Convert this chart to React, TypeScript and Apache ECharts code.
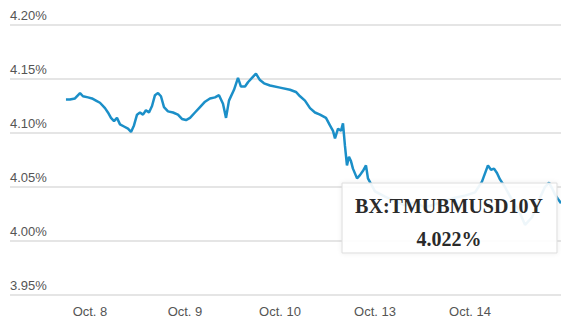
import React, { useEffect, useRef } from "react";
import * as echarts from "echarts";

// x positions in trading-day units (1 = Oct. 8 label, 2 = Oct. 9, ...)
const dayPositions = [1, 2, 3, 4, 5];
const dayLabels = ["Oct. 8", "Oct. 9", "Oct. 10", "Oct. 13", "Oct. 14"];

const times = [
  0.747, 0.789, 0.842, 0.895, 0.926, 0.979, 1.021, 1.063, 1.105, 1.158,
  1.189, 1.221, 1.253, 1.284, 1.316, 1.358, 1.4, 1.432, 1.463, 1.495,
  1.526, 1.558, 1.589, 1.621, 1.653, 1.684, 1.716, 1.747, 1.779, 1.821,
  1.874, 1.926, 1.968, 2.011, 2.053, 2.105, 2.158, 2.211, 2.263, 2.316,
  2.358, 2.4, 2.432, 2.463, 2.516, 2.558, 2.589, 2.632, 2.663, 2.705,
  2.747, 2.789, 2.832, 2.895, 3.0, 3.105, 3.168, 3.211, 3.263, 3.316,
  3.368, 3.421, 3.484, 3.526, 3.558, 3.579, 3.611, 3.642, 3.663, 3.684,
  3.705, 3.726, 3.747, 3.768, 3.811, 3.842, 3.874, 3.905, 3.926, 4.0,
  4.105, 4.211, 4.316, 4.421, 4.526, 4.632, 4.737, 4.842, 4.947, 5.053,
  5.126, 5.189, 5.221, 5.253, 5.284, 5.316, 5.368, 5.442, 5.505, 5.579,
  5.653, 5.737, 5.789, 5.832, 5.863, 5.895, 5.926, 5.958,
];

const yields = [
  4.131, 4.131, 4.132, 4.137, 4.134, 4.133, 4.132, 4.13, 4.128, 4.123,
  4.119, 4.114, 4.111, 4.114, 4.108, 4.106, 4.104, 4.101, 4.107, 4.117,
  4.119, 4.117, 4.121, 4.119, 4.125, 4.135, 4.137, 4.134, 4.124, 4.12,
  4.119, 4.117, 4.113, 4.112, 4.114, 4.119, 4.124, 4.129, 4.132, 4.133,
  4.135, 4.127, 4.114, 4.13, 4.14, 4.151, 4.143, 4.143, 4.147, 4.151,
  4.155, 4.149, 4.146, 4.144, 4.142, 4.14, 4.138, 4.134, 4.13, 4.123,
  4.119, 4.117, 4.114, 4.107, 4.102, 4.095, 4.104, 4.102, 4.109, 4.088,
  4.07, 4.078, 4.074, 4.067, 4.058, 4.061, 4.065, 4.07, 4.058, 4.046,
  4.041, 4.037, 4.033, 4.036, 4.031, 4.034, 4.037, 4.04, 4.042, 4.045,
  4.055, 4.07, 4.066, 4.067, 4.063, 4.057, 4.05, 4.038, 4.03, 4.015,
  4.022, 4.04, 4.05, 4.054, 4.049, 4.043, 4.039, 4.035,
];

const tooltipTitle = "BX:TMUBMUSD10Y";
const tooltipValue = "4.022%";

export default function App() {
  const ref = useRef<HTMLDivElement>(null);
  useEffect(() => {
    if (!ref.current) return;
    const chart = echarts.init(ref.current, null, { renderer: "svg" });
    const font = "'Liberation Sans', Arial, sans-serif";
    const serif = "bold 20px 'Liberation Serif', 'Times New Roman', serif";
    chart.setOption({
      animation: false,
      grid: { left: 10, right: 0, top: 25, bottom: 25, containLabel: false },
      xAxis: {
        type: "value",
        min: 0.158,
        max: 5.958,
        axisLine: { show: false },
        axisTick: { show: false },
        splitLine: { show: false },
        axisLabel: {
          customValues: dayPositions,
          formatter: (v: number) => {
            const i = dayPositions.findIndex((d) => Math.abs(d - v) < 1e-6);
            return i >= 0 ? dayLabels[i] : "";
          },
          color: "#555",
          fontSize: 13,
          fontFamily: font,
          margin: 10,
        },
      },
      yAxis: {
        type: "value",
        min: 3.95,
        max: 4.2,
        interval: 0.05,
        axisLine: { show: false },
        axisTick: { show: false },
        splitLine: { lineStyle: { color: "#dcdcdc", width: 1.5 } },
        axisLabel: {
          inside: true,
          margin: 0,
          verticalAlign: "bottom",
          align: "left",
          padding: [0, 0, 3, 0],
          color: "#555",
          fontSize: 13,
          fontFamily: font,
          formatter: (v: number) => v.toFixed(2) + "%",
        },
      },
      series: [
        {
          type: "line",
          data: times.map((t, i) => [t, yields[i]]),
          showSymbol: false,
          symbol: "none",
          lineStyle: { color: "#1b8fc8", width: 2.5 },
          z: 2,
        },
      ],
      graphic: {
        elements: [
          {
            type: "rect",
            x: 342,
            y: 183,
            z: 100,
            zlevel: 0,
            shape: { x: 0, y: 0, width: 215, height: 70 },
            style: {
              fill: "rgba(255,255,255,0.92)",
              stroke: "#dddddd",
              lineWidth: 1,
              shadowBlur: 4,
              shadowColor: "rgba(0,0,0,0.08)",
            },
          },
          {
            type: "text",
            x: 449,
            y: 206,
            z: 101,
            style: {
              text: tooltipTitle,
              fill: "#2a2a2a",
              font: serif,
              align: "center",
              verticalAlign: "middle",
            },
          },
          {
            type: "text",
            x: 449,
            y: 239,
            z: 101,
            style: {
              text: tooltipValue,
              fill: "#2a2a2a",
              font: serif,
              align: "center",
              verticalAlign: "middle",
            },
          },
        ],
      },
    });
    return () => chart.dispose();
  }, []);
  return (
    <div
      ref={ref}
      style={{ position: "absolute", left: 0, top: 0, width: 561, height: 320, background: "#fff" }}
    />
  );
}
